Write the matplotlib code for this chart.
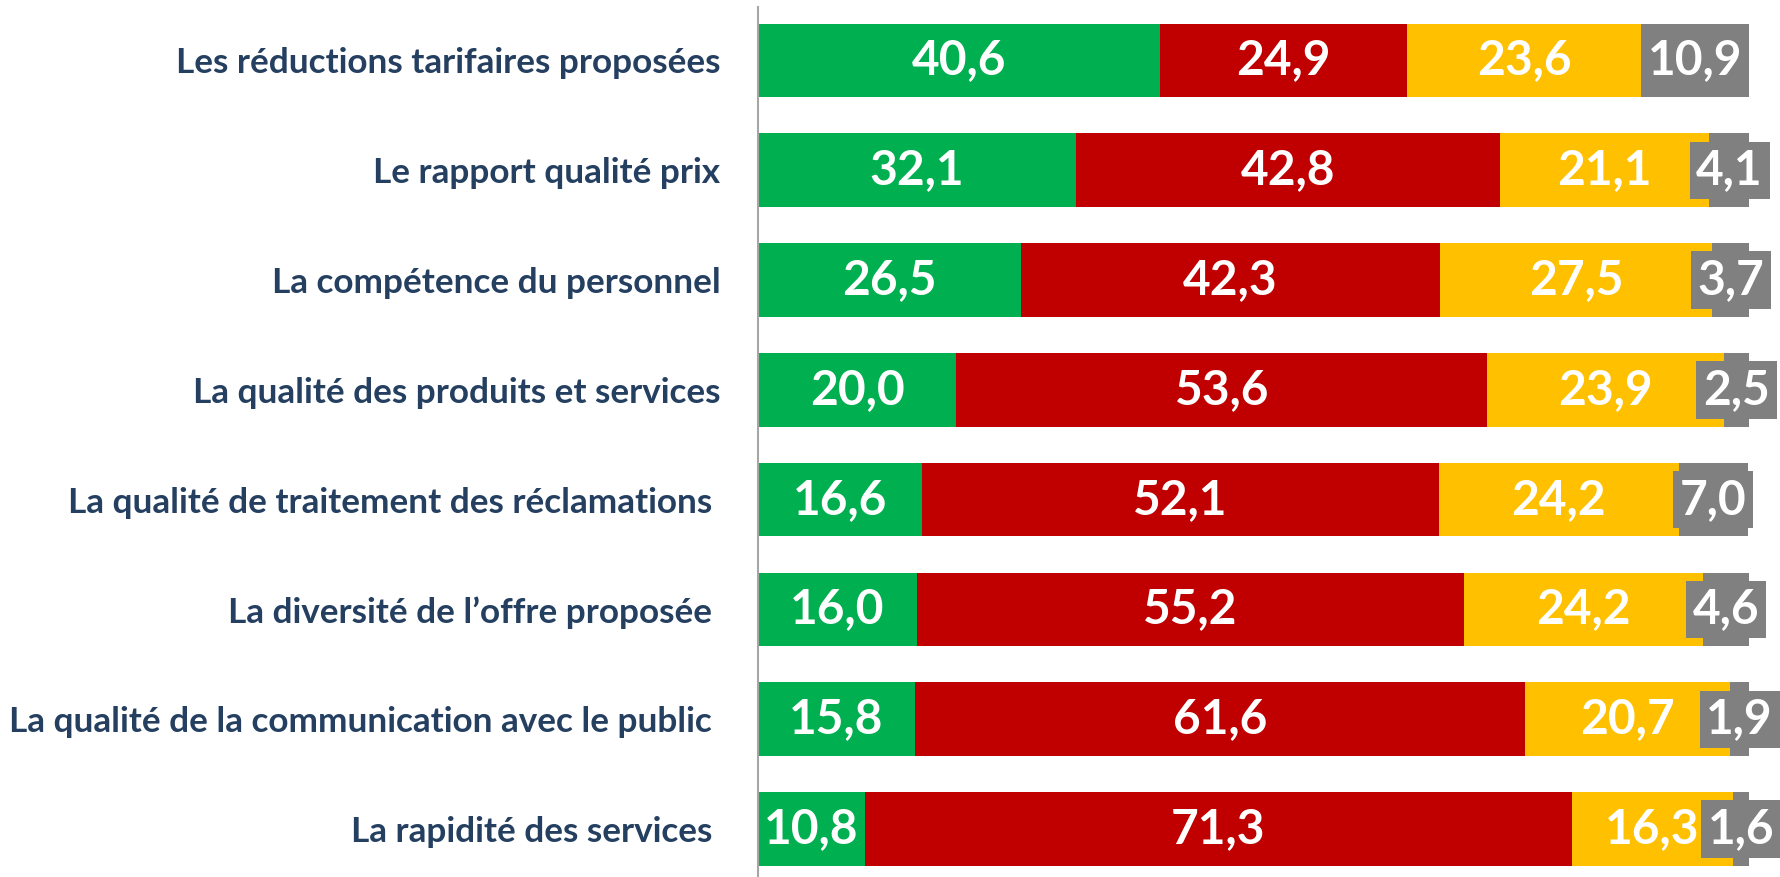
import matplotlib
matplotlib.use("Agg")
import matplotlib.pyplot as plt
import numpy as np

# categories, top to bottom
categories = [
    "Les réductions tarifaires proposées",
    "Le rapport qualité prix",
    "La compétence du personnel",
    "La qualité des produits et services",
    "La qualité de traitement des réclamations ",
    "La diversité de l’offre proposée ",
    "La qualité de la communication avec le public ",
    "La rapidité des services ",
]

green_vals = [40.6, 32.1, 26.5, 20.0, 16.6, 16.0, 15.8, 10.8]
red_vals = [24.9, 42.8, 42.3, 53.6, 52.1, 55.2, 61.6, 71.3]
yellow_vals = [23.6, 21.1, 27.5, 23.9, 24.2, 24.2, 20.7, 16.3]
grey_vals = [10.9, 4.1, 3.7, 2.5, 7.0, 4.6, 1.9, 1.6]

series = [green_vals, red_vals, yellow_vals, grey_vals]
colors = ["#00B050", "#C00000", "#FFC000", "#808080"]

LABEL_FONT = "Lato"
NAVY = "#243F60"

fig = plt.figure(figsize=(17.81, 8.77), dpi=100)
ax = fig.add_axes([0.4256, 0.0, 0.5564, 1 - 7 / 877])

y = np.arange(len(categories))
left = np.zeros(len(categories))
for k, (vals, col) in enumerate(zip(series, colors)):
    vals = np.array(vals)
    ax.barh(y, vals, left=left, height=0.67, color=col, edgecolor="none")
    for yi, l, v in zip(y, left, vals):
        kw = {}
        if k == 3:
            kw["bbox"] = dict(boxstyle="square,pad=0.14", fc=col, ec="none")
        ax.text(l + v / 2, yi, f"{v:.1f}".replace(".", ","),
                ha="center", va="center", color="white",
                fontsize=34.5, fontweight="bold", family=LABEL_FONT,
                clip_on=False, **kw)
    left = left + vals

ax.set_xlim(0, 100)
ax.set_ylim(7.437, -0.487)
ax.set_yticks(y)
ax.set_yticklabels(categories, fontsize=25.3, fontweight="bold",
                   family=LABEL_FONT, color=NAVY)
ax.tick_params(axis="y", length=0, pad=27)
ax.xaxis.set_visible(False)
for side in ["top", "right", "bottom"]:
    ax.spines[side].set_visible(False)
ax.spines["left"].set_color("#A6A6A6")
ax.spines["left"].set_linewidth(1.5)

fig.savefig("out.png", dpi=100)
